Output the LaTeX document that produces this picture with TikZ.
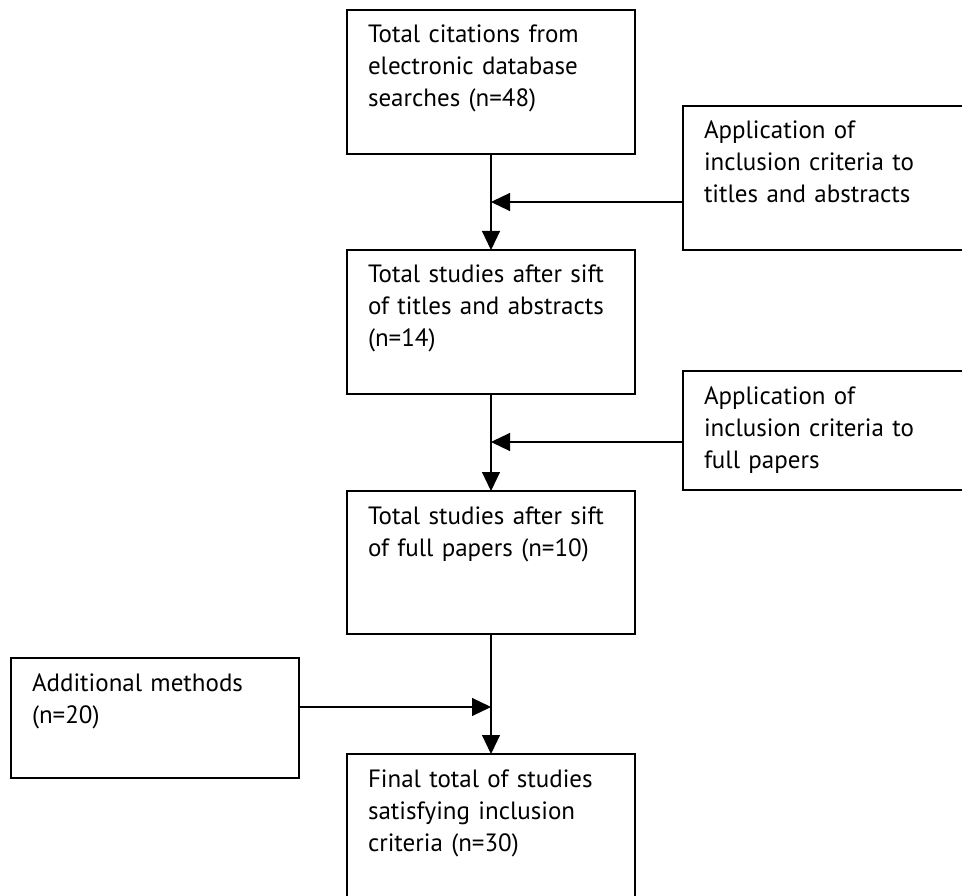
\documentclass[tikz,border=0pt]{standalone}
\usepackage{fontspec}
\setmainfont{PT Sans}
\usetikzlibrary{arrows.meta}
\begin{document}
\begin{tikzpicture}[x=1pt,y=-1pt,
  stage/.style={draw,line width=1.2pt,anchor=north west,inner xsep=21pt,inner ysep=0pt,outer sep=0pt,
    text width=246pt,align=left,text height=33pt,font=\fontsize{25}{32}\selectfont},
  flow/.style={line width=1.2pt,-{Triangle[length=19pt,width=18pt]}}]
\useasboundingbox (0,0) rectangle (962,896);
\clip (0,0) rectangle (962,896);

\node[stage,text depth=111pt] (cites) at (347,10) {Total citations from\\electronic database\\searches (n=48)};
\node[stage,text depth=111pt,text width=241pt] (crit1) at (683,106) {Application of\\inclusion criteria to\\titles and abstracts};
\node[stage,text depth=111pt] (tiab) at (347,250) {Total studies after sift\\of titles and abstracts\\(n=14)};
\node[stage,text depth=86pt,text width=241pt] (crit2) at (683,371) {Application of\\inclusion criteria to\\full papers};
\node[stage,text depth=110pt] (full) at (347,491) {Total studies after sift\\of full papers (n=10)};
\node[stage,text depth=87pt] (extra) at (11,658) {Additional methods\\(n=20)};
\node[stage,text depth=113pt] (final) at (347,754) {Final total of studies\\satisfying inclusion\\criteria (n=30)};

\coordinate (j1) at (491,202);
\coordinate (j2) at (491,442);
\coordinate (j3) at (491,707);

\draw[flow] (cites.south) -- (tiab.north);
\draw[flow] (tiab.south) -- (full.north);
\draw[flow] (full.south) -- (final.north);

\draw[flow] (crit1.west |- j1) -- (j1);
\draw[flow] (crit2.west |- j2) -- (j2);
\draw[flow] (extra.east |- j3) -- (j3);
\end{tikzpicture}
\end{document}
